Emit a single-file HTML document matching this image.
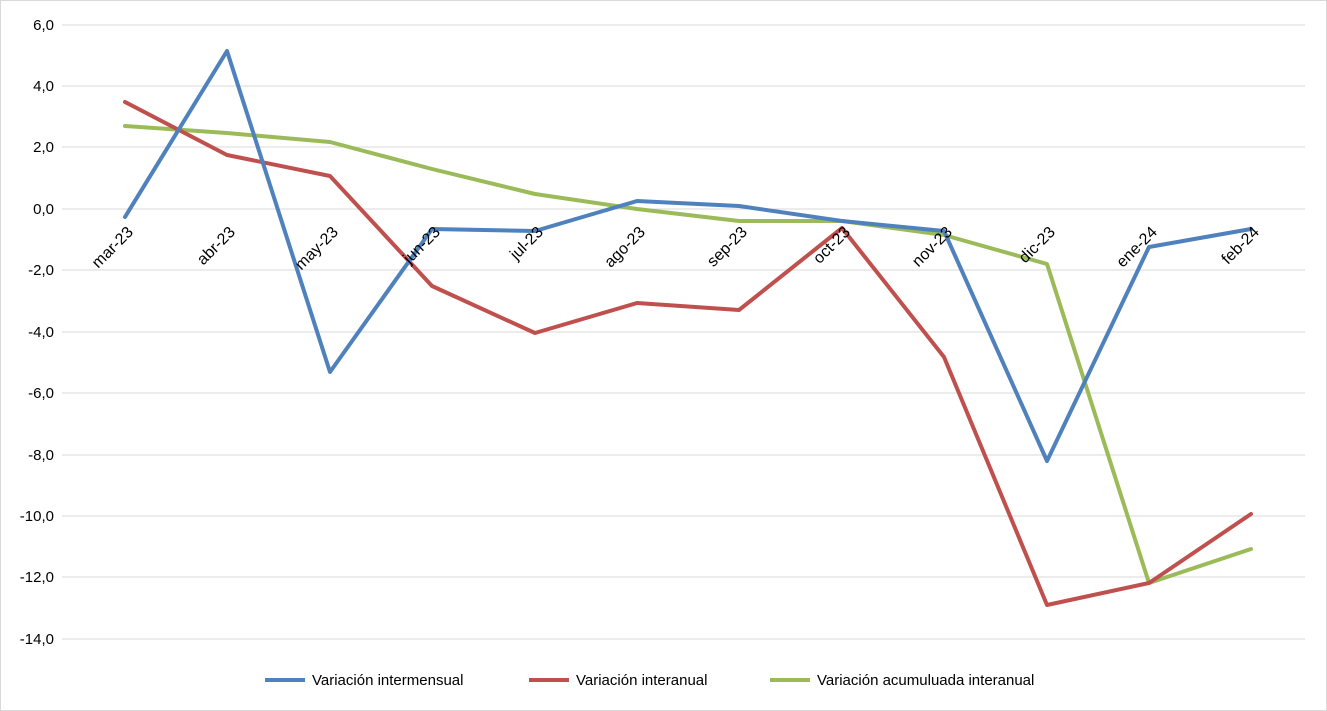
<!DOCTYPE html>
<html><head><meta charset="utf-8"><style>
html,body{margin:0;padding:0;background:#fff;}
svg{display:block;font-family:"Liberation Sans",Arial,sans-serif;}
</style></head><body>
<svg width="1327" height="711" viewBox="0 0 1327 711">
<rect x="0.5" y="0.5" width="1326" height="710" fill="#fff" stroke="#d9d9d9"/>
<g stroke="#d9d9d9" stroke-width="1">
<line x1="62" y1="25" x2="1305" y2="25"/>
<line x1="62" y1="86" x2="1305" y2="86"/>
<line x1="62" y1="147" x2="1305" y2="147"/>
<line x1="62" y1="209" x2="1305" y2="209"/>
<line x1="62" y1="270" x2="1305" y2="270"/>
<line x1="62" y1="332" x2="1305" y2="332"/>
<line x1="62" y1="393" x2="1305" y2="393"/>
<line x1="62" y1="455" x2="1305" y2="455"/>
<line x1="62" y1="516" x2="1305" y2="516"/>
<line x1="62" y1="577" x2="1305" y2="577"/>
<line x1="62" y1="639" x2="1305" y2="639"/>
</g>
<g font-size="15" fill="#000" text-anchor="end">
<text x="54" y="30">6,0</text>
<text x="54" y="91">4,0</text>
<text x="54" y="152">2,0</text>
<text x="54" y="214">0,0</text>
<text x="54" y="275">-2,0</text>
<text x="54" y="337">-4,0</text>
<text x="54" y="398">-6,0</text>
<text x="54" y="460">-8,0</text>
<text x="54" y="521">-10,0</text>
<text x="54" y="582">-12,0</text>
<text x="54" y="644">-14,0</text>
</g>
<g fill="none" stroke-width="4" stroke-linejoin="round" stroke-linecap="round">
<polyline stroke="#9bbb59" points="125,126 227,133 330,142 432,169 535,194 637,209 739,221 842,221 944,235 1047,264 1149,583 1251,549"/>
<polyline stroke="#c0504d" points="125,102 227,155 330,176 432,286 535,333 637,303 739,310 842,228 944,357 1047,605 1149,583 1251,514"/>
<polyline stroke="#4f81bd" points="125,217 227,51 330,372 432,229 535,231 637,201 739,206 842,221 944,231 1047,461 1149,247 1251,229"/>
</g>
<g font-size="16" fill="#000" text-anchor="end">
<text transform="translate(134,233) rotate(-45)">mar-23</text>
<text transform="translate(236,233) rotate(-45)">abr-23</text>
<text transform="translate(339,233) rotate(-45)">may-23</text>
<text transform="translate(441,233) rotate(-45)">jun-23</text>
<text transform="translate(544,233) rotate(-45)">jul-23</text>
<text transform="translate(646,233) rotate(-45)">ago-23</text>
<text transform="translate(748,233) rotate(-45)">sep-23</text>
<text transform="translate(851,233) rotate(-45)">oct-23</text>
<text transform="translate(953,233) rotate(-45)">nov-23</text>
<text transform="translate(1056,233) rotate(-45)">dic-23</text>
<text transform="translate(1158,233) rotate(-45)">ene-24</text>
<text transform="translate(1260,233) rotate(-45)">feb-24</text>
</g>
<g stroke-width="4">
<line x1="265" y1="680" x2="305" y2="680" stroke="#4f81bd"/>
<line x1="529" y1="680" x2="569" y2="680" stroke="#c0504d"/>
<line x1="770" y1="680" x2="810" y2="680" stroke="#9bbb59"/>
</g>
<g font-size="15" fill="#000">
<text x="312" y="685">Variación intermensual</text>
<text x="576" y="685">Variación interanual</text>
<text x="817" y="685">Variación acumuluada interanual</text>
</g>
</svg>
</body></html>
